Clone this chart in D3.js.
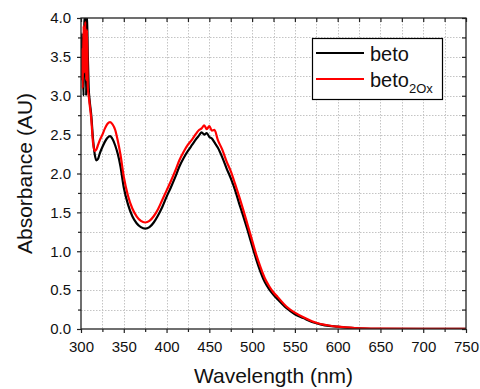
<!DOCTYPE html>
<html>
<head>
<meta charset="utf-8">
<script src="https://cdn.jsdelivr.net/npm/d3@7"></script>
<style>
  html, body { margin: 0; padding: 0; background: #fff; }
  svg { display: block; font-family: "Liberation Sans", Arial, sans-serif; }
</style>
</head>
<body>
<svg id="chart" width="480" height="389"></svg>
<script>
const wavelengths = [300,301,302,303,304,305,306,307,308,309,310,312,314,316,318,320,322,325,328,331,334,337,340,343,346,350,355,360,365,370,375,380,385,390,395,400,405,410,415,420,425,430,435,438,441,444,447,450,453,456,460,465,470,475,480,485,490,495,500,505,510,515,520,525,530,540,550,560,570,580,590,600,610,620,630,650,700,750];

const beto = [3.30,3.80,3.45,3.00,3.95,4.05,3.00,4.05,3.50,3.10,2.95,2.75,2.45,2.25,2.17,2.19,2.26,2.34,2.41,2.46,2.48,2.44,2.36,2.25,2.10,1.82,1.60,1.45,1.36,1.31,1.29,1.31,1.37,1.46,1.57,1.70,1.82,1.95,2.09,2.20,2.29,2.37,2.45,2.49,2.53,2.50,2.52,2.47,2.45,2.40,2.33,2.21,2.07,1.94,1.79,1.61,1.44,1.26,1.07,0.89,0.73,0.60,0.51,0.44,0.38,0.27,0.19,0.14,0.09,0.06,0.04,0.03,0.018,0.01,0.006,0.003,0.001,0.001];

const beto2Ox = [3.20,3.60,3.10,3.90,3.30,3.95,3.20,3.85,3.10,3.00,2.90,2.70,2.40,2.29,2.31,2.37,2.43,2.50,2.58,2.64,2.66,2.63,2.56,2.42,2.25,1.96,1.71,1.55,1.45,1.39,1.37,1.39,1.45,1.54,1.66,1.78,1.90,2.03,2.17,2.28,2.37,2.44,2.52,2.56,2.58,2.62,2.57,2.61,2.55,2.56,2.43,2.31,2.16,2.03,1.87,1.70,1.52,1.33,1.14,0.95,0.79,0.65,0.55,0.47,0.41,0.29,0.21,0.15,0.10,0.065,0.045,0.03,0.02,0.012,0.007,0.004,0.003,0.003];

const xTicks = [300,350,400,450,500,550,600,650,700,750];
const yTicks = [0.0,0.5,1.0,1.5,2.0,2.5,3.0,3.5,4.0];
const seriesNames = ["beto", "beto"];
const seriesSubs = ["", "2Ox"];
const seriesColors = ["#000000", "#ff0000"];
const xLabel = "Wavelength (nm)";
const yLabel = "Absorbance (AU)";

const svg = d3.select("#chart");
const L = 81, R = 466, T = 18, B = 329;
const x = d3.scaleLinear().domain([300, 750]).range([L, R]);
const y = d3.scaleLinear().domain([0, 4]).range([B, T]);

// grid
const xGrid = d3.range(325, 750, 25);
const yGrid = d3.range(0.25, 4, 0.25);
const grid = svg.append("g").attr("stroke", "#c4c4c4").attr("stroke-width", 1).attr("stroke-dasharray", "1.5,1.5");
grid.selectAll("line.vx").data(xGrid).join("line")
  .attr("x1", d => Math.round(x(d)) + 0.5).attr("x2", d => Math.round(x(d)) + 0.5)
  .attr("y1", T).attr("y2", B);
grid.selectAll("line.hy").data(yGrid).join("line")
  .attr("y1", d => Math.round(y(d)) + 0.5).attr("y2", d => Math.round(y(d)) + 0.5)
  .attr("x1", L).attr("x2", R);

// clip
svg.append("clipPath").attr("id", "clip").append("rect")
  .attr("x", L).attr("y", T).attr("width", R - L).attr("height", B - T);

const line = d3.line().x((d, i) => x(wavelengths[i])).y(d => y(d)).curve(d3.curveMonotoneX);
const gLines = svg.append("g").attr("clip-path", "url(#clip)");
[beto, beto2Ox].forEach((s, k) => {
  gLines.append("path").datum(s)
    .attr("fill", "none").attr("stroke", seriesColors[k]).attr("stroke-width", 2.2)
    .attr("stroke-linejoin", "round").attr("d", line);
});

// axes
const minorX = d3.range(300, 751, 25);
const minorY = d3.range(0, 4.01, 0.25);
const axStroke = "#222";
const axB = svg.append("g").attr("transform", `translate(0,${B})`)
  .call(d3.axisBottom(x).tickValues(xTicks).tickSize(4).tickPadding(8).tickFormat(d3.format("d")));
const axBm = svg.append("g").attr("transform", `translate(0,${B})`)
  .call(d3.axisBottom(x).tickValues(minorX.filter(v => v % 50 !== 0)).tickSize(3).tickFormat(""));
const axL = svg.append("g").attr("transform", `translate(${L},0)`)
  .call(d3.axisLeft(y).tickValues(yTicks).tickSize(4).tickPadding(6).tickFormat(d3.format(".1f")));
const axLm = svg.append("g").attr("transform", `translate(${L},0)`)
  .call(d3.axisLeft(y).tickValues(minorY.filter(v => Math.round(v * 4) % 2 !== 0)).tickSize(3).tickFormat(""));
const axT = svg.append("g").attr("transform", `translate(0,${T})`)
  .call(d3.axisBottom(x).tickValues(minorX).tickSize(4).tickFormat(""));
const axR = svg.append("g").attr("transform", `translate(${R},0)`)
  .call(d3.axisLeft(y).tickValues(minorY).tickSize(4).tickFormat(""));
[axB, axBm, axL, axLm, axT, axR].forEach(g => {
  g.selectAll(".domain").remove();
  g.selectAll("line").attr("stroke", axStroke).attr("stroke-width", 1.2);
  g.selectAll("text").attr("fill", "#111").style("font-size", "15px").style("font-family", "'Liberation Sans', Arial, sans-serif");
});
axB.selectAll("text").attr("dy", "0.71em");

svg.append("rect").attr("x", L).attr("y", T).attr("width", R - L).attr("height", B - T)
  .attr("fill", "none").attr("stroke", axStroke).attr("stroke-width", 1.3);

// axis labels
svg.append("text").attr("x", (L + R) / 2).attr("y", 383).attr("text-anchor", "middle")
  .style("font-size", "21px").attr("fill", "#111").text(xLabel);
svg.append("text").attr("transform", `translate(32,${(T + B) / 2}) rotate(-90)`).attr("text-anchor", "middle")
  .style("font-size", "21px").attr("fill", "#111").text(yLabel);

// legend
const lg = svg.append("g");
lg.append("rect").attr("x", 312.5).attr("y", 38.5).attr("width", 130).attr("height", 61)
  .attr("fill", "#fff").attr("stroke", "#000").attr("stroke-width", 1.2);
const legY = [53, 79];
seriesNames.forEach((n, k) => {
  lg.append("line").attr("x1", 316).attr("x2", 364).attr("y1", legY[k]).attr("y2", legY[k])
    .attr("stroke", seriesColors[k]).attr("stroke-width", 2.2);
  const t = lg.append("text").attr("x", 370).attr("y", legY[k] + 8).style("font-size", "20px").attr("fill", "#111");
  t.append("tspan").text(n);
  if (seriesSubs[k]) t.append("tspan").attr("dy", 6).style("font-size", "13px").text(seriesSubs[k]);
});
</script>
</body>
</html>
